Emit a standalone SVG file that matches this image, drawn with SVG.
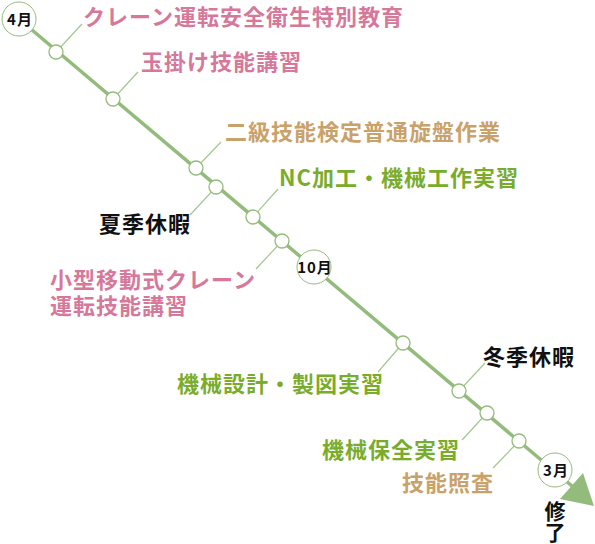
<svg xmlns="http://www.w3.org/2000/svg" width="595" height="544" viewBox="0 0 595 544">
<style>
  text { font-family: "Noto Sans CJK JP", "Noto Sans", sans-serif; font-weight: bold; }
  .lbl { font-size: 22px; letter-spacing: 1px; }
  .pink { fill: #d6789a; }
  .tan { fill: #c9a26a; }
  .green { fill: #7aac2c; }
  .black { fill: #111111; }
  .main { stroke: #93bb7c; stroke-width: 3.5; fill: none; }
  .leader { stroke: #a3c78e; stroke-width: 1.2; fill: none; }
  .node { fill: #ffffff; stroke: #93bb7c; stroke-width: 1.3; }
  .month { fill: #ffffff; stroke: #93bb7c; stroke-width: 1; }
  .mtxt { font-size: 15px; fill: #111111; text-anchor: middle; letter-spacing: 1px; }
  .vert { font-size: 21px; writing-mode: vertical-rl; letter-spacing: 0; }
</style>
<rect width="595" height="544" fill="#ffffff"/>
<g id="connectors">
  <line class="main" x1="19" y1="19" x2="572" y2="486"/>
  <polygon points="594,506 560,499 583,473" fill="#93bb7c"/>
  <line class="leader" x1="56" y1="52" x2="82" y2="24"/>
  <line class="leader" x1="113" y1="99" x2="138" y2="72"/>
  <line class="leader" x1="196" y1="168" x2="221" y2="142"/>
  <line class="leader" x1="216" y1="187" x2="190" y2="215"/>
  <line class="leader" x1="253" y1="217" x2="278" y2="189"/>
  <line class="leader" x1="282" y1="241" x2="256" y2="269"/>
  <line class="leader" x1="403" y1="343" x2="378" y2="372"/>
  <line class="leader" x1="459" y1="391" x2="485" y2="363"/>
  <line class="leader" x1="487" y1="413" x2="462" y2="440"/>
  <line class="leader" x1="519" y1="441" x2="493" y2="468"/>
</g>
<g id="m4"><circle class="month" cx="19" cy="19" r="17"/><text class="mtxt" x="20" y="24.5">4月</text></g>
<g id="m10"><circle class="month" cx="314" cy="267" r="17"/><text class="mtxt" x="315" y="272.5">10月</text></g>
<g id="m3"><circle class="month" cx="555" cy="470" r="17"/><text class="mtxt" x="556" y="475.5">3月</text></g>
<g id="n1"><circle class="node" cx="56" cy="52" r="7"/><text class="lbl pink" x="83" y="25">クレーン運転安全衛生特別教育</text></g>
<g id="n2"><circle class="node" cx="113" cy="99" r="7"/><text class="lbl pink" x="141" y="70">玉掛け技能講習</text></g>
<g id="n3"><circle class="node" cx="196" cy="168" r="7"/><text class="lbl tan" x="225" y="140">二級技能検定普通旋盤作業</text></g>
<g id="n4"><circle class="node" cx="216" cy="187" r="7"/><text class="lbl black" x="99" y="232">夏季休暇</text></g>
<g id="n5"><circle class="node" cx="253" cy="217" r="7"/><text class="lbl green" x="279" y="186">NC加工・機械工作実習</text></g>
<g id="n6"><circle class="node" cx="282" cy="241" r="7"/><text class="lbl pink" x="50" y="288"><tspan x="50" y="288">小型移動式クレーン</tspan><tspan x="50" y="314">運転技能講習</tspan></text></g>
<g id="n7"><circle class="node" cx="403" cy="343" r="7"/><text class="lbl green" x="177" y="392">機械設計・製図実習</text></g>
<g id="n8"><circle class="node" cx="459" cy="391" r="7"/><text class="lbl black" x="483" y="365">冬季休暇</text></g>
<g id="n9"><circle class="node" cx="487" cy="413" r="7"/><text class="lbl green" x="322" y="458">機械保全実習</text></g>
<g id="n10"><circle class="node" cx="519" cy="441" r="7"/><text class="lbl tan" x="402" y="491">技能照査</text></g>
<g id="end"><text class="vert black" x="555" y="501">修了</text></g>
</svg>
